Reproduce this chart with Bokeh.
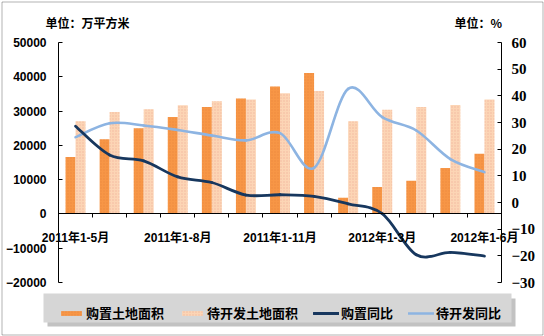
from bokeh.plotting import figure
from bokeh.models import (Range1d, LinearAxis, FixedTicker, Legend, LegendItem,
                          Label, BoxAnnotation, ColumnDataSource)
from bokeh.transform import dodge
from bokeh.embed import file_html
from bokeh.resources import INLINE

# ---------------- data ----------------
categories = ["2011年1-5月", "2011年1-6月", "2011年1-7月", "2011年1-8月", "2011年1-9月",
              "2011年1-10月", "2011年1-11月", "2011年1-12月", "2012年1-2月", "2012年1-3月",
              "2012年1-4月", "2012年1-5月", "2012年1-6月"]
land_purchased = [16600, 21800, 25000, 28300, 31200, 33700, 37200, 41100, 4750, 7850, 9700, 13400, 17550]
land_undeveloped = [27000, 29700, 30500, 31700, 32850, 33400, 35200, 35850, 27000, 30400, 31200, 31800, 33350]
purchased_yoy = [28.6, 17.8, 15.6, 9.6, 7.5, 2.8, 2.9, 2.3, -0.5, -4.2, -19.6, -18.7, -20.1]
undeveloped_yoy = [24.5, 29.7, 28.9, 27.2, 25.1, 23.3, 26.0, 13.0, 42.6, 32.0, 27.0, 16.3, 11.4]
shown_ticks = [0, 3, 6, 9, 12]
left_ticks = [-20000, -10000, 0, 10000, 20000, 30000, 40000, 50000]
right_ticks = [-30, -20, -10, 0, 10, 20, 30, 40, 50, 60]
left_span = (-20000, 50000)
right_span = (-30, 60)
series_names = ["购置土地面积", "待开发土地面积", "购置同比", "待开发同比"]

ORANGE = "#F79646"
PEACH = "#FCD5B5"
NAVY = "#17375E"
LBLUE = "#8DB4E2"
SANS = "Liberation Sans, Noto Sans CJK SC"
SERIF = "Liberation Serif, Noto Serif CJK SC"
CJK = "Noto Sans CJK SC"

# ---------------- layout (pixels) ----------------
W, H = 544, 336
PL, PR, PT, PB = 58, 501, 42, 282   # plotting area edges

n = len(categories)
xpp = n / (PR - PL)                           # x units per pixel
lpp = (left_span[1] - left_span[0]) / (PB - PT)
rpp = (right_span[1] - right_span[0]) / (PB - PT)
x_range = Range1d(-0.5 - PL * xpp, n - 0.5 + (W - PR) * xpp)
y_range = Range1d(left_span[0] - (H - PB) * lpp, left_span[1] + PT * lpp)

xs = list(range(n))
src = ColumnDataSource(dict(x=xs, a=land_purchased, b=land_undeveloped))

p = figure(width=W, height=H, output_backend="svg", toolbar_location=None,
           x_range=x_range, y_range=y_range,
           min_border_left=0, min_border_right=0, min_border_top=0, min_border_bottom=0)
p.extra_y_ranges = {"pct": Range1d(right_span[0] - (H - PB) * rpp, right_span[1] + PT * rpp)}
p.outline_line_color = None
p.xgrid.visible = False
p.ygrid.visible = False
p.background_fill_color = "white"
p.border_fill_color = "white"

bw = 0.293
r_a = p.vbar(x=dodge("x", -bw / 2, range=p.x_range), top="a", bottom=0, width=bw, source=src,
             fill_color=ORANGE, line_color=None, hatch_pattern="dot", hatch_color="#D9732E",
             hatch_alpha=0.35, hatch_scale=3, hatch_weight=1)
r_b = p.vbar(x=dodge("x", bw / 2, range=p.x_range), top="b", bottom=0, width=bw, source=src,
             fill_color=PEACH, line_color=None, hatch_pattern="dot", hatch_color="#E39A86",
             hatch_alpha=0.5, hatch_scale=3, hatch_weight=1)


def smooth(xv, yv):
    m = len(xv)
    d = dict(x0=[], y0=[], x1=[], y1=[], cx0=[], cy0=[], cx1=[], cy1=[])
    for i in range(m - 1):
        xm, ym = (xv[i - 1], yv[i - 1]) if i > 0 else (xv[i], yv[i])
        xp, yp = (xv[i + 2], yv[i + 2]) if i + 2 < m else (xv[i + 1], yv[i + 1])
        d["x0"].append(xv[i]); d["y0"].append(yv[i])
        d["x1"].append(xv[i + 1]); d["y1"].append(yv[i + 1])
        d["cx0"].append(xv[i] + (xv[i + 1] - xm) / 6); d["cy0"].append(yv[i] + (yv[i + 1] - ym) / 6)
        d["cx1"].append(xv[i + 1] - (xp - xv[i]) / 6); d["cy1"].append(yv[i + 1] - (yp - yv[i]) / 6)
    return ColumnDataSource(d)


r_d = p.bezier(x0="x0", y0="y0", x1="x1", y1="y1", cx0="cx0", cy0="cy0", cx1="cx1", cy1="cy1",
               source=smooth(xs, undeveloped_yoy), y_range_name="pct", line_color=LBLUE,
               line_width=2.6, line_cap="round")
r_c = p.bezier(x0="x0", y0="y0", x1="x1", y1="y1", cx0="cx0", cy0="cy0", cx1="cx1", cy1="cy1",
               source=smooth(xs, purchased_yoy), y_range_name="pct", line_color=NAVY,
               line_width=2.8, line_cap="round")

# x axis at zero
xa = p.xaxis[0]
xa.fixed_location = 0
xa.bounds = (-0.5, n - 0.5)
xa.ticker = FixedTicker(ticks=shown_ticks, minor_ticks=[i + 0.5 for i in range(n - 1)])
xa.major_label_overrides = {i: categories[i] for i in shown_ticks}
xa.major_tick_line_color = None
xa.major_tick_in = 0
xa.major_tick_out = 0
xa.minor_tick_in = 0
xa.minor_tick_out = 4
xa.minor_tick_line_color = "black"
xa.axis_line_color = "black"
xa.major_label_standoff = 13
xa.major_label_text_font = SANS
xa.major_label_text_font_style = "bold"
xa.major_label_text_font_size = "12px"
xa.major_label_text_color = "black"

ya = p.yaxis[0]
ya.fixed_location = -0.5
ya.bounds = left_span
ya.ticker = FixedTicker(ticks=left_ticks)
ya.major_tick_in = 4
ya.major_tick_out = 0
ya.minor_tick_line_color = None
ya.axis_line_color = "black"
ya.major_tick_line_color = "black"
ya.major_label_standoff = 12
ya.major_label_text_font = SANS
ya.major_label_text_font_style = "bold"
ya.major_label_text_font_size = "12px"
ya.major_label_text_color = "black"

ra = LinearAxis(y_range_name="pct", ticker=FixedTicker(ticks=right_ticks))
ra.fixed_location = n - 0.5
ra.bounds = right_span
ra.major_tick_in = 4
ra.major_tick_out = 0
ra.minor_tick_line_color = None
ra.axis_line_color = "black"
ra.major_tick_line_color = "black"
ra.major_label_standoff = 10
ra.major_label_text_font = SERIF
ra.major_label_text_font_style = "bold"
ra.major_label_text_font_size = "15px"
ra.major_label_text_color = "black"
p.add_layout(ra, "right")


def box(l, t, r, b, **kw):
    # pixel box given from the top-left corner of the picture
    return BoxAnnotation(left=l, right=r, top=H - t, bottom=H - b, left_units="screen",
                         right_units="screen", top_units="screen", bottom_units="screen", **kw)


# legend panel with shadow
p.add_layout(box(47, 298, 515, 326, fill_color="#9a9a9a", fill_alpha=0.6, line_color=None))
p.add_layout(box(43, 293, 511, 322, fill_color="#D6D6D6", fill_alpha=1, line_color=None))
legend = Legend(items=[LegendItem(label=series_names[0], renderers=[r_a]),
                       LegendItem(label=series_names[1], renderers=[r_b]),
                       LegendItem(label=series_names[2], renderers=[r_c]),
                       LegendItem(label=series_names[3], renderers=[r_d])],
                location=(58, H - 322), orientation="horizontal", padding=6, spacing=15,
                label_standoff=2, glyph_width=26, glyph_height=6, label_height=17,
                background_fill_alpha=0, border_line_color=None, margin=0,
                label_text_font=CJK, label_text_font_style="bold",
                label_text_font_size="13px", label_text_color="black")
p.add_layout(legend)

# unit labels
p.add_layout(Label(x=45, y=H - 22, x_units="screen", y_units="screen", text="单位：万平方米",
                   text_baseline="middle", text_font=CJK, text_font_style="bold",
                   text_font_size="12px", text_color="black"))
p.add_layout(Label(x=454, y=H - 22, x_units="screen", y_units="screen", text="单位：%",
                   text_baseline="middle", text_font=CJK, text_font_style="bold",
                   text_font_size="12px", text_color="black"))

# outer border
p.add_layout(box(1.5, 1.5, 542.5, 334.5, fill_alpha=0, line_color="black", line_width=1))

open("out.html", "w").write(file_html(p, INLINE))
